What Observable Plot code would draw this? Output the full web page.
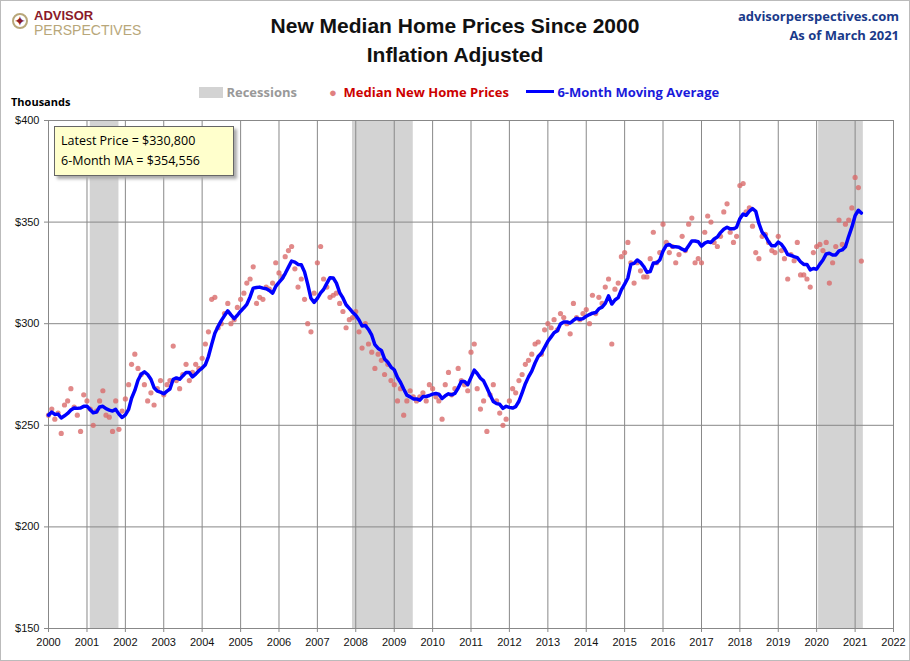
<!DOCTYPE html>
<html><head><meta charset="utf-8">
<script src="https://cdn.jsdelivr.net/npm/d3@7"></script>
<script src="https://cdn.jsdelivr.net/npm/@observablehq/plot@0.6"></script>
<style>
body{margin:0;background:#fff;font-family:"Open Sans",Arial,sans-serif}
#wrap{position:relative;width:908px;height:659px;border:1px solid #bbb}
#head{height:100px;position:relative}
.t{position:absolute;left:0;width:908px;text-align:center;top:10px;font-size:21px;font-weight:bold;color:#111;line-height:29px;font-family:Arial,"Liberation Sans",sans-serif}
.icon{position:absolute;left:11px;top:12px;width:16px;height:16px;border-radius:50%;border:2px solid #b8a77a;box-sizing:border-box;color:#8a1a2a;font-size:14px;line-height:12px;text-align:center}
.logo{position:absolute;left:33px;top:8px;color:#8a1a2a;font-weight:bold;font-size:13px;line-height:14px;font-family:Arial,sans-serif}
.logo span{color:#b8a77a;font-weight:normal;font-size:14px}
.rt{position:absolute;right:10px;top:6px;text-align:right;color:#1a3a8a;font-weight:bold;font-size:13px;line-height:19px}
.leg{position:absolute;top:82px;font-size:13px;font-weight:bold}
.th{position:absolute;left:10px;top:93px;font-size:11px;font-weight:bold}
#box{position:absolute;left:53px;top:125px;width:166px;padding:4px 6px;background:#ffffcc;border:1px solid #666;box-shadow:3px 3px 3px #aaa;font-size:12.5px;line-height:20px}
</style></head><body>
<div id="wrap">
<div id="head">
<div class="icon">&#10022;</div>
<div class="logo">ADVISOR<br><span>PERSPECTIVES</span></div>
<div class="t">New Median Home Prices Since 2000<br>Inflation Adjusted</div>
<div class="rt">advisorperspectives.com<br>As of March 2021</div>
<div class="leg" style="left:198px;color:#999"><span style="display:inline-block;width:24px;height:11px;background:#d3d3d3;vertical-align:-1px"></span> Recessions</div>
<div class="leg" style="left:328px;color:#c00"><span style="color:#e08080">&#9679;</span>&nbsp; Median New Home Prices</div>
<div class="leg" style="left:525px;color:#1a1adb"><span style="display:inline-block;width:28px;height:3px;background:#00f;vertical-align:4px"></span> 6-Month Moving Average</div>
<div class="th">Thousands</div>
</div>
<div id="chart"></div>
<div id="box">Latest Price = $330,800<br>6-Month MA = $354,556</div>
</div>
<script>
const prices = [
255,258,253,256,246,260,262,268,259,255,247,265,
262,258,250,257,262,267,255,254,247,262,248,257,
263,270,280,285,278,275,270,262,266,260,268,272,
265,270,272,289,272,268,275,280,272,276,280,278,
283,290,296,312,313,298,300,305,310,300,302,308,
312,315,320,322,328,310,313,312,318,317,320,330,
325,323,333,336,338,327,318,322,312,300,296,315,
330,338,322,318,313,314,315,310,306,298,302,303,
306,296,288,300,290,286,278,285,282,275,280,272,
270,262,268,255,262,267,264,262,264,266,262,270,
268,264,262,253,270,276,265,268,278,272,270,267,
286,290,268,258,262,247,265,270,262,256,250,253,
262,268,266,272,275,280,282,285,290,291,285,297,
300,298,302,297,305,303,300,295,310,303,302,305,
307,300,314,305,313,310,318,322,290,317,320,333,
335,340,330,320,330,326,323,323,332,345,330,335,
349,340,335,338,330,334,343,336,349,352,330,332,
330,345,353,350,340,338,343,355,359,345,340,343,
368,369,355,357,348,335,332,343,344,340,336,335,
343,336,332,322,334,331,340,324,324,322,318,335,
338,339,336,340,320,330,338,351,339,349,351,357,
372,367,330.8];
const recStart = ["2001-02-01","2007-12-01","2020-01-20"];
const recEnd = ["2001-11-01","2009-07-01","2021-03-20"];
const yTicks = [150,200,250,300,350,400];

const data = prices.map((v,i)=>({date:new Date(2000,i,1),v}));
const rec = recStart.map((s,i)=>({a:new Date(s),b:new Date(recEnd[i])}));
const years = d3.timeYear.range(new Date(2000,0,1),new Date(2022,0,2));

const chart = Plot.plot({
  width:908,height:559,
  marginTop:19,marginBottom:32,marginLeft:47,marginRight:16,
  style:{fontFamily:"Arial,sans-serif",fontSize:"11px",color:"#111"},
  x:{type:"time",domain:[new Date(2000,0,1),new Date(2022,0,1)],label:null},
  y:{domain:[150,400],label:null},
  marks:[
    Plot.rectX(rec,{x1:"a",x2:"b",y1:150,y2:400,fill:"#d3d3d3"}),
    Plot.gridX({ticks:years,stroke:"#888",strokeOpacity:1}),
    Plot.gridY({ticks:yTicks,stroke:"#888",strokeOpacity:1}),
    Plot.frame({stroke:"#888"}),
    Plot.axisX({ticks:years,tickFormat:d3.timeFormat("%Y"),tickSize:4,tickPadding:6,stroke:"#888"}),
    Plot.axisY({ticks:yTicks,tickFormat:d=>"$"+d,tickSize:4,stroke:"#888"}),
    Plot.dot(data,{x:"date",y:"v",r:2.6,fill:"#d96b6b",fillOpacity:0.8}),
    Plot.lineY(data,Plot.windowY({k:6,anchor:"end"},{x:"date",y:"v",stroke:"#00f",strokeWidth:3.5}))
  ]
});
document.getElementById("chart").append(chart);
</script>
</body></html>
